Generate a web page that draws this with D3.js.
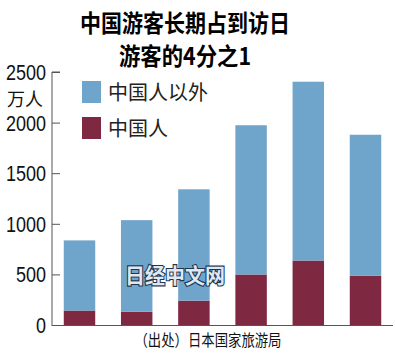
<!DOCTYPE html>
<html>
<head>
<meta charset="utf-8">
<script src="https://cdn.jsdelivr.net/npm/d3@7"></script>
<style>
  body { margin: 0; background: #fff; }
  svg { display: block; font-family: "Noto Sans CJK SC", sans-serif; }
</style>
</head>
<body>
<div id="chart"></div>
<script>
// values (万人)
const years = ["2012", "2013", "2014", "2015", "2016", "2017"];
const chineseVisitors = [143, 131, 241, 499, 637, 488];
const otherVisitors = [693, 905, 1100, 1475, 1767, 1392];
const yTicks = [0, 500, 1000, 1500, 2000, 2500];
const seriesNames = ["中国人以外", "中国人"];

const width = 395, height = 353;
const blue = "#70a5cb", maroon = "#7e2841";

const svg = d3.select("#chart").append("svg")
  .attr("width", width)
  .attr("height", height);

// title
svg.append("text")
  .attr("x", 185).attr("y", 32)
  .attr("text-anchor", "middle")
  .style("font-size", "24px").style("font-weight", "bold")
  .attr("textLength", 210).attr("lengthAdjust", "spacingAndGlyphs")
  .text("中国游客长期占到访日");
svg.append("text")
  .attr("x", 185).attr("y", 65)
  .attr("text-anchor", "middle")
  .style("font-size", "24px").style("font-weight", "bold")
  .attr("textLength", 132).attr("lengthAdjust", "spacingAndGlyphs")
  .text("游客的4分之1");

const x = d3.scaleBand()
  .domain(years)
  .range([50.5, 394.5])
  .paddingInner(0.45)
  .paddingOuter(0.232);

const y = d3.scaleLinear()
  .domain([0, 2500])
  .range([325, 72]);

// stacked bars
const rows = years.map((yr, i) => ({ year: yr, china: chineseVisitors[i], other: otherVisitors[i] }));
const layers = d3.stack().keys(["china", "other"])(rows);
const colors = { china: maroon, other: blue };

svg.append("g").selectAll("g")
  .data(layers)
  .join("g")
  .attr("fill", (d) => colors[d.key])
  .selectAll("rect")
  .data((d) => d)
  .join("rect")
  .attr("x", (d) => x(d.data.year))
  .attr("width", x.bandwidth())
  .attr("y", (d) => y(d[1]))
  .attr("height", (d) => y(d[0]) - y(d[1]));

// y axis with inward ticks
const yAxis = svg.append("g")
  .attr("transform", "translate(52,0)")
  .call(d3.axisRight(y).tickValues(yTicks).tickSize(8).tickFormat(""));
yAxis.select(".domain").attr("stroke", "#555").attr("d", "M8,72H0V326");
yAxis.selectAll(".tick line").attr("stroke", "#555");

svg.append("g").selectAll("text")
  .data(yTicks)
  .join("text")
  .attr("x", 46)
  .attr("y", (d) => y(d) + 8)
  .attr("text-anchor", "end")
  .style("font-size", "22px")
  .style("font-family", "'Liberation Sans', sans-serif")
  .attr("textLength", (d) => String(d).length * 10)
  .attr("lengthAdjust", "spacingAndGlyphs")
  .attr("fill", "#111")
  .text((d) => d);

svg.append("text")
  .attr("x", 43).attr("y", 106)
  .attr("text-anchor", "end")
  .style("font-size", "18px")
  .attr("fill", "#111")
  .text("万人");

// baseline
svg.append("line")
  .attr("x1", 52).attr("x2", 393)
  .attr("y1", 325.5).attr("y2", 325.5)
  .attr("stroke", "#555");

// legend
const legend = svg.append("g").selectAll("g")
  .data(seriesNames)
  .join("g")
  .attr("transform", (d, i) => `translate(82,${81 + i * 36})`);
legend.append("rect")
  .attr("width", 19).attr("height", 22)
  .attr("fill", (d, i) => (i === 0 ? blue : maroon));
legend.append("text")
  .attr("x", 26).attr("y", 19)
  .style("font-size", "20px")
  .attr("fill", "#222")
  .text((d) => d);

// watermark
svg.append("text")
  .attr("x", 175).attr("y", 283)
  .attr("text-anchor", "middle")
  .style("font-size", "21px").style("font-weight", "bold")
  .attr("textLength", 100).attr("lengthAdjust", "spacingAndGlyphs")
  .attr("fill", "#dfe8f2")
  .attr("stroke", "#1f3550").attr("stroke-width", 2.2)
  .attr("paint-order", "stroke")
  .text("日经中文网");

// source
svg.append("text")
  .attr("x", 208).attr("y", 346)
  .attr("text-anchor", "middle")
  .style("font-size", "16px")
  .attr("textLength", 147).attr("lengthAdjust", "spacingAndGlyphs")
  .attr("fill", "#111")
  .text("（出处）日本国家旅游局");
</script>
</body>
</html>
